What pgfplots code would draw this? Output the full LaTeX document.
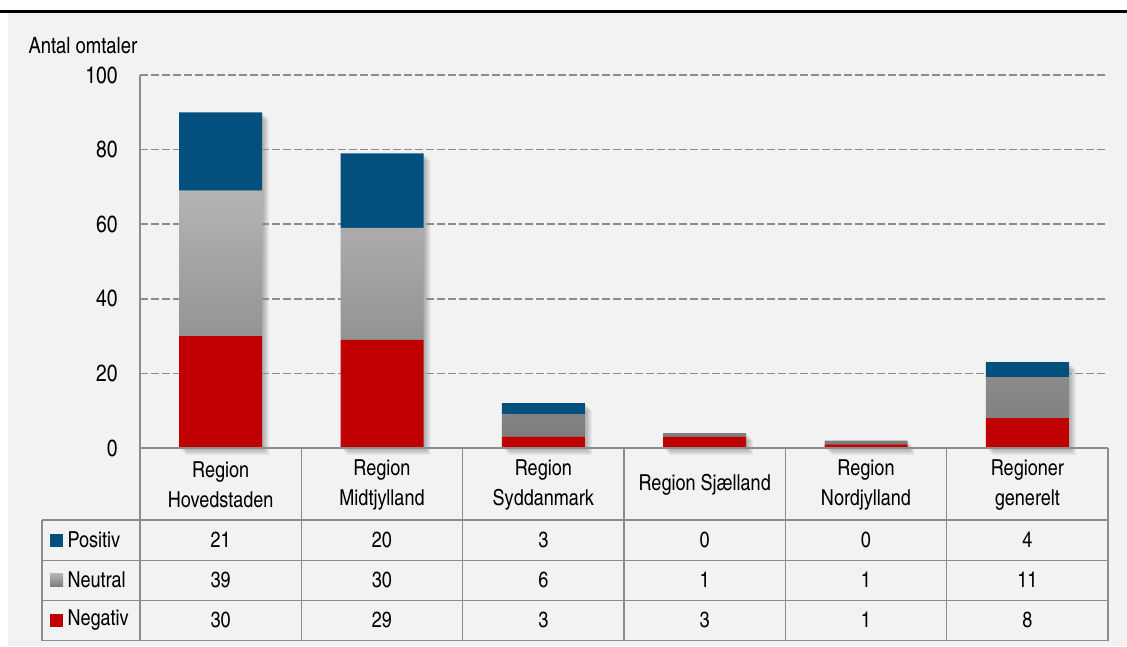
\documentclass[border=0pt]{standalone}
\usepackage{fontspec}
\setmainfont{texgyreheroscn}[Extension=.otf, UprightFont=*-regular, BoldFont=*-bold]
\usepackage{pgfplots}
\pgfplotsset{compat=1.18}
\usepackage{pgfplotstable}

\definecolor{bgc}{HTML}{F2F2F2}
\definecolor{cPos}{HTML}{03507F}
\definecolor{cNeg}{HTML}{C00000}
\definecolor{neuTop}{HTML}{B4B4B4}
\definecolor{neuBot}{HTML}{7C7C7C}
\definecolor{linegray}{HTML}{8C8C8C}

\pgfplotstableread{
x neg neu pos tot
0 30 39 21 90
1 29 30 20 79
2 3 6 3 12
3 3 1 0 4
4 1 1 0 2
5 8 11 4 23
}\data

\pgfplotsset{base/.style={at={(140pt,-448pt)}, anchor=south west, scale only axis,
  width=968pt, height=373pt, xmin=-0.5, xmax=5.5, ymin=0, ymax=100}}

\begin{document}
\begin{tikzpicture}[x=1pt,y=1pt]
\useasboundingbox (0,0) rectangle (1127,-646);
\fill[white] (0,0) rectangle (1127,-646);
\fill[bgc] (8,-13) rectangle (1127,-646);
\fill[black] (0,-9.5) rectangle (1127,-13);

% shadow layer
\begin{axis}[base, hide axis, clip=false]
\pgfplotsinvokeforeach{1,...,7}{
  \addplot[ybar, bar width=83pt, draw=none, fill=black, fill opacity=0.045,
    bar shift=#1pt, yshift=-#1pt] table[x=x,y=tot]{\data};
}
\end{axis}

% main bars
\begin{axis}[base, ybar stacked, bar width=83pt,
  axis x line=none, axis y line*=left,
  y axis line style={-, draw=linegray, line width=1.5pt},
  xtick=\empty, ytick={0,20,...,100},
  ymajorgrids, major grid style={draw=linegray, line width=1.6pt, dash pattern=on 7.5pt off 3.5pt},
  major tick length=0pt,
  /pgf/number format/assume math mode=true,
  yticklabel style={font=\fontsize{23.5}{27}\selectfont, xshift=-19pt},
  clip=false]
\addplot[fill=cNeg, draw=none] table[x=x,y=neg]{\data};
\addplot[draw=none, top color=neuTop, bottom color=neuBot] table[x=x,y=neu]{\data};
\addplot[fill=cPos, draw=none] table[x=x,y=pos]{\data};
\end{axis}

\node[anchor=west, font=\fontsize{22.5}{26}\selectfont] at (25,-46) {Antal omtaler};

% table lines
\begin{scope}[draw=linegray, line width=1.5pt]
\draw (140,-448) -- (1108,-448);
\foreach \yy in {520,560.7,600.7,640.7} \draw (42,-\yy) -- (1108,-\yy);
\draw (42,-520) -- (42,-640.7);
\foreach \k in {0,...,6} \draw ({140+\k*161.33},-448) -- ({140+\k*161.33},-640.7);
\end{scope}

% header labels
\begin{scope}[every node/.style={align=center, font=\fontsize{22}{30}\selectfont}]
\node at ({140+0.5*161.33},-485) {Region\\Hovedstaden};
\node at ({140+1.5*161.33},-485) {Region\\Midtjylland};
\node at ({140+2.5*161.33},-485) {Region\\Syddanmark};
\node at ({140+3.5*161.33},-485) {Region Sjælland};
\node at ({140+4.5*161.33},-485) {Region\\Nordjylland};
\node at ({140+5.5*161.33},-485) {Regioner\\generelt};
\end{scope}

% row labels
\fill[cPos] (50,-533.5) rectangle (63,-546.5);
\shade[top color=neuTop, bottom color=neuBot] (50,-573.5) rectangle (63,-586.5);
\fill[cNeg] (50,-613.5) rectangle (63,-626.5);
\begin{scope}[every node/.style={anchor=west, font=\fontsize{22}{26}\selectfont}]
\node at (64,-540) {Positiv};
\node at (64,-580) {Neutral};
\node at (64,-620) {Negativ};
\end{scope}

% values
\begin{scope}[every node/.style={font=\fontsize{22}{26}\selectfont}]
\foreach \v [count=\i from 0] in {21,20,3,0,0,4} \node at ({140+(\i+0.5)*161.33},-540) {\v};
\foreach \v [count=\i from 0] in {39,30,6,1,1,11} \node at ({140+(\i+0.5)*161.33},-580) {\v};
\foreach \v [count=\i from 0] in {30,29,3,3,1,8} \node at ({140+(\i+0.5)*161.33},-620) {\v};
\end{scope}
\end{tikzpicture}
\end{document}
